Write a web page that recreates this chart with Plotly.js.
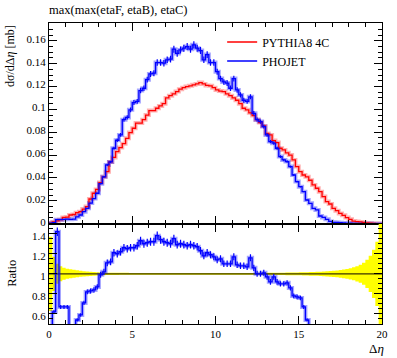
<!DOCTYPE html>
<html><head><meta charset="utf-8">
<script src="https://cdn.plot.ly/plotly-3.0.1.min.js"></script>
<style>html,body{margin:0;padding:0;background:#fff}#chart{width:397px;height:358px}</style>
</head><body><div id="chart"></div>
<script>
const chartTitle = 'max(max(etaF, etaB), etaC)';
const seriesNames = ['PYTHIA8 4C', 'PHOJET'];
const binWidth = 0.2;
const nBins = 100;

const pythia = [
 0.0005,0.0015,0.0025,0.0035,0.0055,0.0058,0.0076,0.008,0.0096,0.0105,
 0.0128,0.015,0.0216,0.0266,0.030,0.036,0.041,0.0455,0.054,0.058,
 0.063,0.0666,0.070,0.0747,0.0797,0.0835,0.088,0.088,0.091,0.095,
 0.099,0.099,0.101,0.103,0.105,0.110,0.112,0.1136,0.1156,0.1177,
 0.119,0.120,0.1206,0.1215,0.1223,0.1235,0.1223,0.121,0.1206,0.119,
 0.117,0.116,0.1156,0.1136,0.112,0.110,0.108,0.105,0.101,0.0996,
 0.097,0.0946,0.091,0.0885,0.0855,0.079,0.0777,0.0727,0.071,0.066,
 0.0645,0.062,0.060,0.0558,0.050,0.0455,0.0426,0.041,0.038,0.0339,
 0.031,0.028,0.0237,0.0193,0.0172,0.0134,0.0114,0.009,0.0073,0.0053,
 0.0038,0.0023,0.0018,0.0015,0.001,0.0006,0.0004,0.0002,0.0001,0.00005
];
const phojet = [
 0.0004,0.0009,0.0035,0.0035,0.0037,0.0039,0.0038,0.004,0.006,0.0076,
 0.0105,0.0134,0.018,0.022,0.0266,0.035,0.041,0.0514,0.054,0.066,
 0.073,0.0777,0.091,0.093,0.0996,0.106,0.107,0.1165,0.1185,0.126,
 0.131,0.1317,0.141,0.141,0.1404,0.1434,0.144,0.1527,0.149,0.152,
 0.1536,0.155,0.1527,0.1565,0.1536,0.1515,0.1434,0.148,0.141,0.141,
 0.133,0.127,0.124,0.123,0.1185,0.127,0.117,0.1127,0.108,0.107,
 0.111,0.0966,0.091,0.0893,0.085,0.0777,0.0718,0.0704,0.066,0.0587,
 0.0558,0.0543,0.050,0.0426,0.0368,0.0324,0.028,0.0207,0.0178,0.0134,
 0.012,0.0067,0.0055,0.0038,0.002,0.0012,0.0011,0.0008,0.0006,0.0005,
 0.0004,0.0003,0.0002,0.0002,0.0001,0.0001,0.0001,0,0,0
];
const ratioPhojet = [
 0.2,0.62,1.42,0.67,0.67,0.67,0.35,0.4,0.54,0.59,
 0.71,0.82,0.83,0.84,0.87,0.99,1.02,1.11,1.12,1.21,
 1.20,1.22,1.26,1.25,1.26,1.26,1.28,1.33,1.30,1.31,
 1.32,1.32,1.38,1.34,1.32,1.31,1.30,1.35,1.29,1.30,
 1.29,1.28,1.29,1.28,1.27,1.23,1.18,1.21,1.19,1.17,
 1.14,1.15,1.10,1.10,1.10,1.17,1.09,1.08,1.08,1.07,
 1.16,1.06,1.00,1.00,1.01,0.97,0.92,0.97,0.92,0.90,
 0.90,0.91,0.86,0.78,0.77,0.76,0.67,0.54,0.45,0.40,
 0.39,0.24,0.23,0.20,0.12,0.09
];
const refBand = [
 0.37,0.17,0.10,0.075,0.06,0.05,0.045,0.04,0.035,0.03,
 0.027,0.024,0.021,0.018,0.016,0.014,0.013,0.012,0.012,0.011,
 0.011,0.010,0.010,0.010,0.009,0.009,0.009,0.009,0.009,0.009,
 0.009,0.009,0.009,0.009,0.009,0.009,0.009,0.009,0.009,0.009,
 0.009,0.009,0.009,0.009,0.009,0.009,0.009,0.009,0.009,0.009,
 0.009,0.009,0.009,0.009,0.009,0.009,0.009,0.009,0.009,0.009,
 0.009,0.009,0.010,0.010,0.010,0.011,0.011,0.011,0.012,0.012,
 0.012,0.013,0.013,0.014,0.014,0.015,0.016,0.017,0.018,0.019,
 0.020,0.022,0.024,0.026,0.028,0.031,0.034,0.038,0.043,0.049,
 0.056,0.065,0.076,0.090,0.110,0.140,0.180,0.240,0.320,0.500
];
const xTickVals = [0, 5, 10, 15, 20];
const yMainTickVals = [0, 0.02, 0.04, 0.06, 0.08, 0.1, 0.12, 0.14, 0.16];
const yMainTickText = ['0','0.02','0.04','0.06','0.08','0.1','0.12','0.14','0.16'];
const yRatioTickVals = [0.6, 0.8, 1, 1.2, 1.4];
const yRatioTickText = ['0.6','0.8','1','1.2','1.4'];

const FONT = 'Liberation Serif, serif';
const edges = Array.from({length: nBins + 1}, (_, i) => +(i * binWidth).toFixed(3));
const centers = Array.from({length: nBins}, (_, i) => +((i + 0.5) * binWidth).toFixed(3));
const stepY = v => v.concat([v[v.length - 1]]);
const stepX = v => edges.slice(0, v.length + 1);

const refOne = pythia.map(v => v > 0 ? v / v : null);
const bandUp = refBand.map((w, i) => refOne[i] + w);
const bandDn = refBand.map((w, i) => refOne[i] - w);

const RED = '#ff0000', BLUE = '#0000ff';
const traces = [
 {x: stepX(pythia), y: stepY(pythia), mode: 'lines', line: {shape: 'hv', color: 'rgba(255,0,0,0.3)', width: 4}, showlegend: false, hoverinfo: 'skip'},
 {x: stepX(phojet), y: stepY(phojet), mode: 'lines', line: {shape: 'hv', color: 'rgba(0,0,255,0.35)', width: 4}, showlegend: false, hoverinfo: 'skip'},
 {x: stepX(pythia), y: stepY(pythia), mode: 'lines', name: seriesNames[0], line: {shape: 'hv', color: RED, width: 1.3}},
 {x: stepX(phojet), y: stepY(phojet), mode: 'lines', name: seriesNames[1], line: {shape: 'hv', color: BLUE, width: 1.3}},
 {x: centers, y: phojet, mode: 'markers', marker: {size: 0.1, color: BLUE}, showlegend: false,
  error_y: {type: 'percent', value: 2, color: BLUE, thickness: 1.2, width: 0}},
 {x: stepX(bandUp), y: stepY(bandUp), xaxis: 'x2', yaxis: 'y2', mode: 'lines', line: {shape: 'hv', width: 0, color: '#ffff00'}, showlegend: false},
 {x: stepX(bandDn), y: stepY(bandDn), xaxis: 'x2', yaxis: 'y2', mode: 'lines', line: {shape: 'hv', width: 0, color: '#ffff00'}, fill: 'tonexty', fillcolor: '#ffff00', showlegend: false},
 {x: stepX(refOne), y: stepY(refOne), xaxis: 'x2', yaxis: 'y2', mode: 'lines', line: {shape: 'hv', width: 1.2, color: '#3a3500'}, showlegend: false},
 {x: stepX(ratioPhojet), y: stepY(ratioPhojet), xaxis: 'x2', yaxis: 'y2', mode: 'lines', line: {shape: 'hv', color: 'rgba(0,0,255,0.35)', width: 4}, showlegend: false},
 {x: stepX(ratioPhojet), y: stepY(ratioPhojet), xaxis: 'x2', yaxis: 'y2', mode: 'lines', line: {shape: 'hv', color: BLUE, width: 1.3}, showlegend: false},
 {x: centers.slice(0, ratioPhojet.length), y: ratioPhojet, xaxis: 'x2', yaxis: 'y2', mode: 'markers', marker: {size: 0.1, color: BLUE}, showlegend: false,
  error_y: {type: 'percent', value: 3, color: BLUE, thickness: 1.2, width: 0}}
];

const axCommon = {
 showline: true, linecolor: '#000', linewidth: 1, mirror: 'ticks', ticks: 'inside',
 tickcolor: '#000', showgrid: false, zeroline: false,
 tickfont: {family: FONT, size: 11, color: '#000'}
};
const layout = {
 width: 397, height: 358,
 margin: {l: 49, r: 15, t: 23, b: 34},
 paper_bgcolor: '#fff', plot_bgcolor: '#fff',
 font: {family: FONT, size: 12, color: '#000'},
 title: {text: chartTitle, x: 49 / 397, xref: 'container', xanchor: 'left', y: 1 - 10 / 358, yanchor: 'middle',
   font: {family: FONT, size: 12.5, color: '#000'}},
 showlegend: true,
 legend: {x: 0.52, y: 0.985, xanchor: 'left', yanchor: 'top', bgcolor: 'rgba(0,0,0,0)', traceorder: 'normal',
   font: {family: FONT, size: 12, color: '#000'}, tracegroupgap: 0},
 xaxis: Object.assign({}, axCommon, {domain: [0, 1], anchor: 'y', range: [0, 20], tickvals: xTickVals, showticklabels: false,
   ticklen: 8, minor: {dtick: 1, tick0: 0, ticks: 'inside', ticklen: 4, tickcolor: '#000'}}),
 yaxis: Object.assign({}, axCommon, {domain: [1 / 3, 1], anchor: 'x', range: [0, 0.1756], tickvals: yMainTickVals, ticktext: yMainTickText,
   ticklabelshift: -2,
   ticklen: 8, minor: {dtick: 0.005, tick0: 0, ticks: 'inside', ticklen: 4, tickcolor: '#000'}}),
 xaxis2: Object.assign({}, axCommon, {domain: [0, 1], anchor: 'y2', range: [0, 20], tickvals: xTickVals,
   ticklen: 8, minor: {dtick: 1, tick0: 0, ticks: 'inside', ticklen: 4, tickcolor: '#000'}}),
 yaxis2: Object.assign({}, axCommon, {domain: [0, 1 / 3], anchor: 'x2', range: [0.5, 1.5], tickvals: yRatioTickVals, ticktext: yRatioTickText,
   ticklabelshift: 2,
   ticklen: 8, minor: {dtick: 0.05, tick0: 0, ticks: 'inside', ticklen: 4, tickcolor: '#000'}}),
 annotations: [
  {text: 'dσ/dΔ<i>η</i> [mb]', xref: 'paper', yref: 'paper', x: -39 / 333, y: 1, xanchor: 'center', yanchor: 'top',
   textangle: -90, showarrow: false, font: {family: FONT, size: 12, color: '#000'}},
  {text: 'Ratio', xref: 'paper', yref: 'paper', x: -37 / 333, y: 1 / 6, xanchor: 'center', yanchor: 'middle',
   textangle: -90, showarrow: false, font: {family: FONT, size: 12.5, color: '#000'}},
  {text: 'Δ<i>η</i>', xref: 'paper', yref: 'paper', x: 1, y: 0, xanchor: 'right', yanchor: 'middle', yshift: -24, xshift: 4,
   showarrow: false, font: {family: FONT, size: 13, color: '#000'}}
 ]
};
Plotly.newPlot('chart', traces, layout, {staticPlot: true, displayModeBar: false});
</script>
</body></html>
